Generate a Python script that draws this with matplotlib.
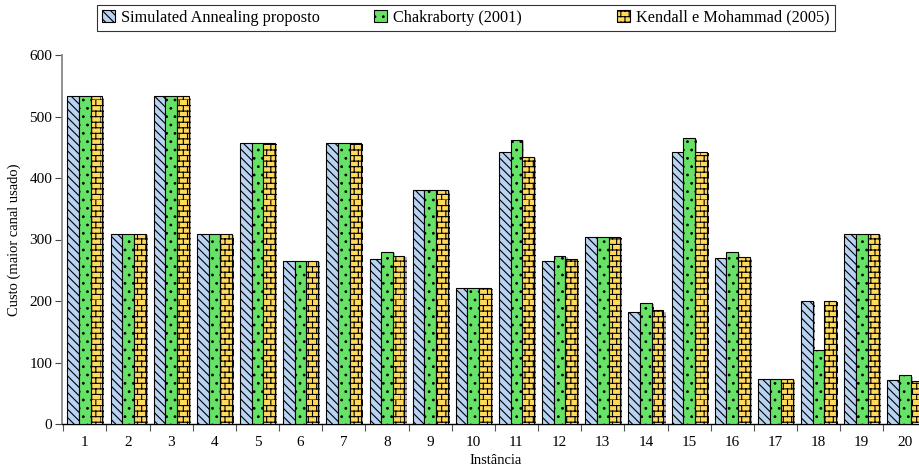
import numpy as np
import matplotlib
matplotlib.use("Agg")
import matplotlib.pyplot as plt
import matplotlib.patheffects as pe
import matplotlib.hatch as mhatch
from matplotlib.path import Path
from matplotlib.ticker import FixedLocator

plt.rcParams["font.family"] = ["Liberation Serif", "DejaVu Serif"]
plt.rcParams["hatch.linewidth"] = 0.8

instancias = [str(i) for i in range(1, 21)]
sa_proposto = [533, 309, 533, 309, 457, 265, 457, 268, 381, 221,
               442, 265, 304, 182, 443, 270, 73, 200, 309, 71]
chakraborty = [533, 309, 533, 309, 457, 265, 457, 280, 381, 221,
               462, 273, 304, 197, 465, 279, 73, 120, 309, 79]
kendall = [533, 309, 533, 309, 457, 265, 457, 273, 381, 221,
           434, 268, 304, 185, 443, 271, 73, 200, 309, 70]


# padrao de tijolos (usa o caractere '*' no lugar das estrelas)
class BrickHatch(mhatch.HatchPatternBase):
    def __init__(self, hatch, density):
        self.rows = hatch.count("*") * density * 3
        self.cols = hatch.count("*") * density * 2
        if self.rows:
            self.num_vertices = 2 * self.rows + 2 * self.rows * self.cols
        else:
            self.num_vertices = 0

    def set_vertices_and_codes(self, vertices, codes):
        k = 0
        for i in range(self.rows):
            y0 = i / self.rows
            y1 = (i + 1) / self.rows
            vertices[k] = (0, y0)
            vertices[k + 1] = (1, y0)
            codes[k] = Path.MOVETO
            codes[k + 1] = Path.LINETO
            k += 2
            off = 0.5 / self.cols if i % 2 else 0.0
            for j in range(self.cols):
                xx = off + j / self.cols
                vertices[k] = (xx, y0)
                vertices[k + 1] = (xx, y1)
                codes[k] = Path.MOVETO
                codes[k + 1] = Path.LINETO
                k += 2


mhatch._hatch_types = [c for c in mhatch._hatch_types if c is not mhatch.Stars] + [BrickHatch]

series = [
    ("Simulated Annealing proposto", sa_proposto, "#b9d3f2", "\\\\\\\\"),
    ("Chakraborty (2001)", chakraborty, "#66e366", ".."),
    ("Kendall e Mohammad (2005)", kendall, "#ffd95a", "*"),
]

fig = plt.figure(figsize=(9.2, 4.7), dpi=100)
ax = fig.add_axes([62 / 920, 46 / 470, 858 / 920, 369 / 470])

x = np.arange(1, len(instancias) + 1)
w = 0.27
shadow = [pe.SimplePatchShadow(offset=(1.5, -1.0), shadow_rgbFace="#888888", alpha=0.6), pe.Normal()]
handles = []
for k, (nome, vals, cor, hatch) in enumerate(series):
    bars = ax.bar(x + (k - 1) * w, vals, width=w, color=cor, edgecolor="black",
                  linewidth=0.8, hatch=hatch, label=nome, zorder=3)
    for b in bars:
        b.set_path_effects(shadow)
    handles.append(bars)

ax.set_xlim(0.47, 20.35)
ax.set_ylim(0, 600)
ax.set_yticks(range(0, 601, 100))
ax.set_xticks(x)
ax.set_xticklabels(instancias)
ax.xaxis.set_minor_locator(FixedLocator(np.arange(0.5, 21, 1)))
ax.tick_params(axis="x", which="major", length=0, pad=9, labelsize=11)
ax.tick_params(axis="x", which="minor", length=5, width=0.8, color="#555555", direction="out")
ax.tick_params(axis="y", length=5, width=0.8, color="#444444", labelsize=11, pad=2)

for s in ["top", "right"]:
    ax.spines[s].set_visible(False)
ax.spines["left"].set_color("#888888")
ax.spines["left"].set_linewidth(1.3)
ax.spines["bottom"].set_color("black")
ax.spines["bottom"].set_linewidth(1.0)

ax.set_ylabel("Custo (maior canal usado)", fontsize=10.5, labelpad=6)
ax.set_xlabel("Instância", fontsize=10.5)
ax.xaxis.set_label_coords((496 - 62) / 858, -0.082)

rotulos = [s[0] for s in series]
rotulos[1] = rotulos[1] + "          "
leg = fig.legend(handles=handles, labels=rotulos, loc="upper left",
                 bbox_to_anchor=(97 / 920, 1 - 5 / 470),
                 ncol=3, fontsize=11.7, frameon=True, fancybox=False,
                 handlelength=0.8, handleheight=0.8, handletextpad=0.4,
                 columnspacing=3.3, borderpad=0.3, borderaxespad=0)
leg.get_frame().set_edgecolor("black")
leg.get_frame().set_linewidth(0.8)
for h in leg.legend_handles:
    h.set_path_effects([pe.Normal()])

fig.savefig("out.png", dpi=100)
